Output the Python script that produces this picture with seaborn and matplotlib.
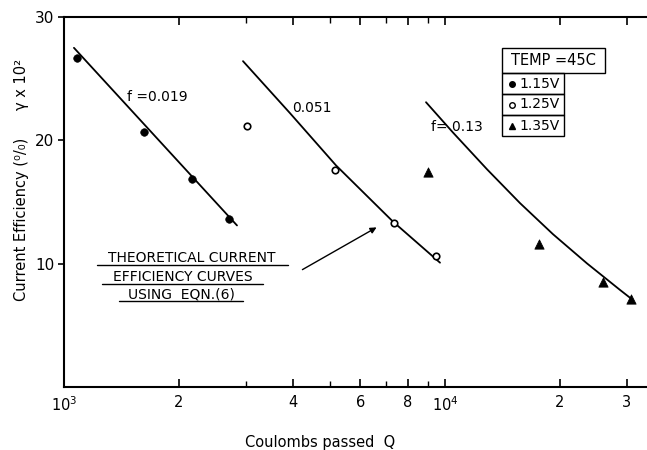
import numpy as np
import pandas as pd
import matplotlib
matplotlib.use("Agg")
import matplotlib.pyplot as plt
import seaborn as sns
from matplotlib.patches import Rectangle
from matplotlib.lines import Line2D
from matplotlib.ticker import FixedLocator, NullFormatter, FixedFormatter

# ---------------- data ----------------
q_115 = [1082, 1621, 2168, 2712]
y_115 = [26.7, 20.65, 16.9, 13.66]

q_125 = [3020, 5140, 7340, 9455]
y_125 = [21.2, 17.6, 13.3, 10.65]

q_135 = [9020, 17650, 26000, 30750]
y_135 = [17.4, 11.6, 8.5, 7.15]

q_f019 = [1062, 2845]
y_f019 = [27.5, 13.1]

q_f051 = [2950, 3920, 5175, 7303, 9703]
y_f051 = [26.42, 22.20, 17.97, 13.41, 10.08]

q_f13 = [8916, 10496, 12893, 15735, 19205, 23590, 28800, 31140]
y_f13 = [23.09, 20.63, 17.65, 14.91, 12.39, 10.02, 7.87, 7.05]

x_major = [1000, 2000, 4000, 6000, 8000, 10000, 20000, 30000]
x_major_labels = ["$10^3$", "2", "4", "6", "8", "$10^4$", "2", "3"]
x_minor = [3000, 5000, 7000, 9000]
y_ticks = [10, 20, 30]

# ---------------- figure ----------------
sns.set_style("ticks")
plt.rcParams['font.family'] = ['DejaVu Sans']
plt.rcParams['text.color'] = 'black'
plt.rcParams['xtick.color'] = 'black'
plt.rcParams['ytick.color'] = 'black'
plt.rcParams['axes.edgecolor'] = 'black'
W, H = 647, 450
fig = plt.figure(figsize=(W / 100, H / 100), dpi=100)

def fx(px):
    return px / W

def fy(py):
    return 1 - py / H

ax = fig.add_axes([fx(64), fy(387), fx(647) - fx(64), fy(17) - fy(387)])

curves = pd.concat([
    pd.DataFrame({"Q": q_f019, "Y": y_f019, "f": "0.019"}),
    pd.DataFrame({"Q": q_f051, "Y": y_f051, "f": "0.051"}),
    pd.DataFrame({"Q": q_f13, "Y": y_f13, "f": "0.13"}),
])
for name, g in curves.groupby("f"):
    sns.lineplot(data=g, x="Q", y="Y", ax=ax, color="black", lw=1.3,
                 sort=True, estimator=None, legend=False)

sns.scatterplot(x=q_115, y=y_115, ax=ax, marker="o", s=30, color="black",
                edgecolor="black", legend=False, zorder=3)
sns.scatterplot(x=q_125, y=y_125, ax=ax, marker="o", s=22, facecolor="white",
                edgecolor="black", linewidth=1.2, legend=False, zorder=3)
sns.scatterplot(x=q_135, y=y_135, ax=ax, marker="^", s=45, color="black",
                edgecolor="black", legend=False, zorder=3)

ax.set_xscale("log")
ax.set_xlim(1000, 33900)
ax.set_ylim(0, 30)
ax.xaxis.set_major_locator(FixedLocator(x_major))
ax.xaxis.set_major_formatter(FixedFormatter(x_major_labels))
ax.xaxis.set_minor_locator(FixedLocator(x_minor))
ax.xaxis.set_minor_formatter(NullFormatter())
ax.set_yticks(y_ticks)
ax.set_yticklabels([str(v) for v in y_ticks])
ax.tick_params(axis="x", which="major", direction="in", top=True, length=6,
               width=1.2, labelsize=10.5, pad=6)
ax.tick_params(axis="x", which="minor", direction="in", top=True, length=4,
               width=1.0)
ax.tick_params(axis="y", direction="out", length=4, width=1.2, labelsize=11, pad=3)
for s in ["left", "bottom", "top"]:
    ax.spines[s].set_linewidth(1.5)
ax.spines["right"].set_visible(False)
ax.set_xlabel("")
ax.set_ylabel("")

# curve labels
fig.text(fx(157), fy(97), "f =0.019", ha="center", va="center", fontsize=10)
fig.text(fx(312), fy(108), "0.051", ha="center", va="center", fontsize=10)
fig.text(fx(457), fy(127), "f= 0.13", ha="center", va="center", fontsize=10)

# theoretical-curve note with underlines
note_lines = ["THEORETICAL CURRENT", "EFFICIENCY CURVES", "USING  EQN.(6)"]
note_cy = [258, 277, 294]
note_cx = [192, 183, 181]
ul_y = [265, 284, 301]
ul_x = [(97, 288), (102, 263), (119, 243)]
for t, cx, cy, uy, (u0, u1) in zip(note_lines, note_cx, note_cy, ul_y, ul_x):
    fig.text(fx(cx), fy(cy), t, ha="center", va="center", fontsize=10)
    fig.add_artist(Line2D([fx(u0), fx(u1)], [fy(uy), fy(uy)], color="black", lw=1.0))

ax.annotate("", xy=(fx(379), fy(226)), xycoords="figure fraction",
            xytext=(fx(300), fy(271)), textcoords="figure fraction",
            arrowprops=dict(arrowstyle="-|>", color="black", lw=1.0,
                            mutation_scale=9))

# legend box (hand drawn style)
fig.add_artist(Rectangle((fx(502), fy(73)), fx(605) - fx(502), fy(48) - fy(73),
                         fill=False, lw=1.0, ec="black"))
fig.text(fx(553), fy(60.5), "TEMP =45C", ha="center", va="center", fontsize=10.5)
rows = [(73, 94), (94, 115), (115, 136)]
row_labels = ["1.15V", "1.25V", "1.35V"]
row_markers = [dict(marker="o", mfc="black", ms=4),
               dict(marker="o", mfc="white", ms=4),
               dict(marker="^", mfc="black", ms=5)]
for (r0, r1), lab, mk in zip(rows, row_labels, row_markers):
    fig.add_artist(Rectangle((fx(502), fy(r1)), fx(564) - fx(502), fy(r0) - fy(r1),
                             fill=False, lw=1.0, ec="black"))
    cy = (r0 + r1) / 2
    fig.add_artist(Line2D([fx(512)], [fy(cy)], color="black", mec="black",
                          lw=0, **mk))
    fig.text(fx(540), fy(cy), lab, ha="center", va="center", fontsize=10)

# axis labels
fig.text(fx(22), fy(180), "Current Efficiency (\u2070/\u2080)      \u03b3 x 10\u00b2",
         rotation=90, ha="center", va="center", fontsize=10.5)
fig.text(fx(320), fy(442), "Coulombs passed  Q", ha="center", va="center", fontsize=10.5)

fig.savefig("out.png", dpi=100, facecolor="white")
